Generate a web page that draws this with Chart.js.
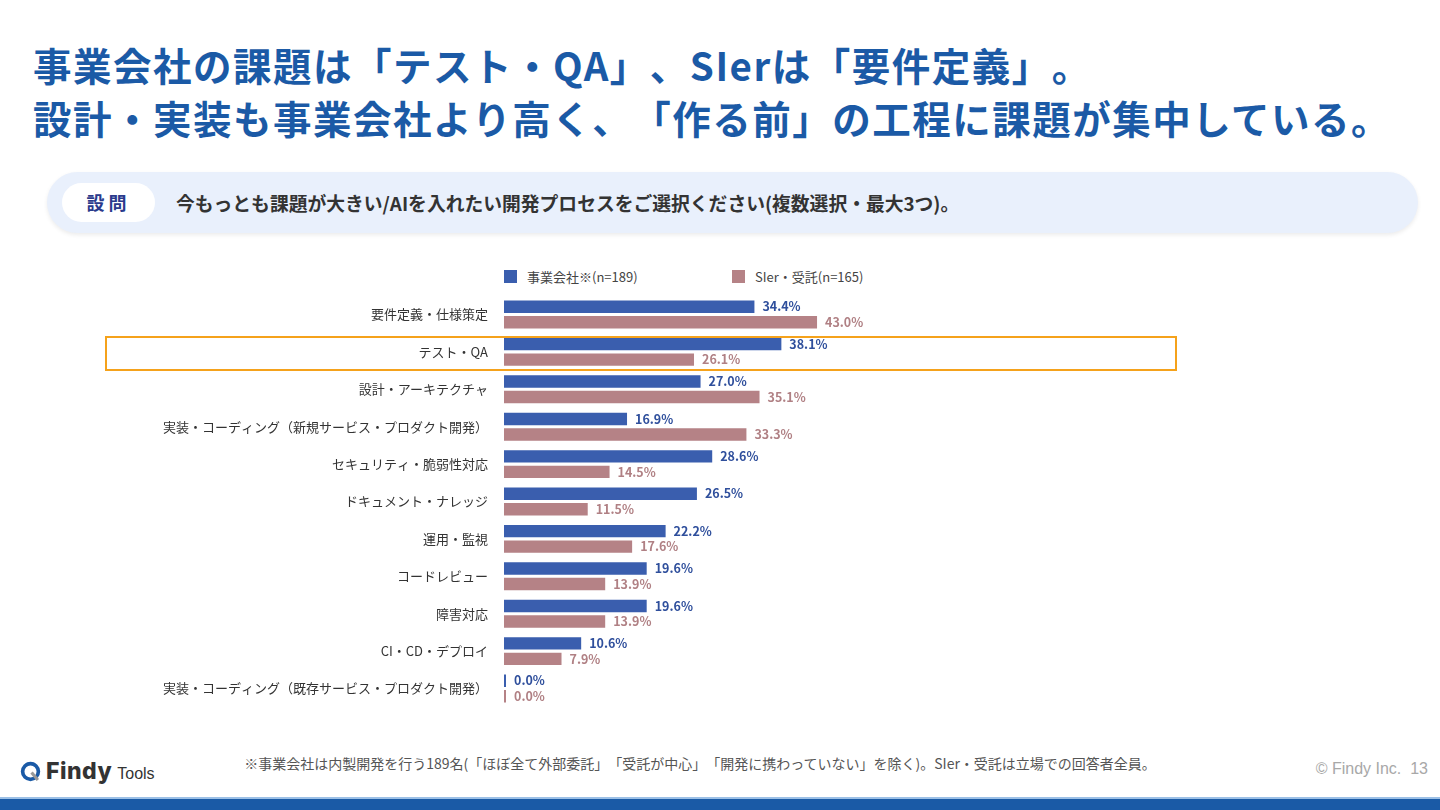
<!DOCTYPE html>
<html lang="ja">
<head>
<meta charset="utf-8">
<script src="https://cdn.jsdelivr.net/npm/chart.js@4"></script>
<style>
  body { margin:0; width:1440px; height:810px; background:#fff; position:relative; overflow:hidden;
         font-family:"Noto Sans CJK JP","Noto Sans",sans-serif; text-spacing-trim:space-all; }
  .title { position:absolute; left:33px; top:38px; color:#1b5aa6; font-weight:700; font-size:38.5px;
           line-height:53px; letter-spacing:1.5px; white-space:nowrap; }
  .question { position:absolute; left:47px; top:172px; width:1371px; height:61px; border-radius:31px;
              background:#e9f0fc; box-shadow:0 2px 4px rgba(0,0,0,0.08); }
  .question .tag { position:absolute; left:15px; top:11px; width:93px; height:39px; border-radius:20px;
                   background:#fff; color:#2a3a8c; font-weight:700; font-size:18px; line-height:39px;
                   text-align:center; letter-spacing:4px; }
  .question .text { position:absolute; left:129px; top:0; line-height:61px; font-size:18.8px; font-weight:700;
                    color:#333; white-space:nowrap; }
  .legend { position:absolute; top:268px; font-size:13px; color:#444; line-height:18px; white-space:nowrap; }
  .legend span.sw { display:inline-block; width:13px; height:13px; vertical-align:-1px; margin-right:10px; }
  .hl { position:absolute; left:105px; top:336px; width:1068px; height:31px; border:2.5px solid #f5a21b; }
  #wrap { position:absolute; left:0; top:272px; width:1440px; height:459px; }
  .note { position:absolute; left:0; width:1400px; top:753px; text-align:center; font-size:14px; color:#555; }
  .logo { position:absolute; left:20px; top:757px; font-family:"Liberation Sans",Arial,sans-serif; color:#333; white-space:nowrap; }
  .logo b { font-size:23px; font-family:Inter,"Liberation Sans",sans-serif; font-weight:800; letter-spacing:0.5px; }
  .logo i { font-style:normal; font-size:16px; margin-left:5px; }
  .copy { position:absolute; right:12px; top:760px; color:#a8a8a8; font-size:16px; font-family:"Liberation Sans",sans-serif; }
  .band { position:absolute; left:0; top:797px; width:1440px; height:13px; background:#1a5aa6; border-top:2px solid #9cc0e6; }
</style>
</head>
<body>
<div class="title">事業会社の課題は「テスト・QA」、SIerは「要件定義」。<br>設計・実装も事業会社より高く、「作る前」の工程に課題が集中している。</div>
<div class="question"><div class="tag">設問</div><div class="text">今もっとも課題が大きい/AIを入れたい開発プロセスをご選択ください(複数選択・最大3つ)。</div></div>
<div class="legend" id="lg1" style="left:504px"></div>
<div class="legend" id="lg2" style="left:732px"></div>
<div id="wrap"><canvas id="chart"></canvas></div>
<div class="hl"></div>
<div class="logo"><svg width="21" height="21" viewBox="0 0 20 20" style="vertical-align:-3px;margin-right:5px"><circle cx="10" cy="10" r="7.5" fill="none" stroke="#1a5aa6" stroke-width="3.5"/><path d="M11 11 L17 18" stroke="#999" stroke-width="3"/></svg><b>Findy</b><i>Tools</i></div>
<div class="note">※事業会社は内製開発を行う189名(「ほぼ全て外部委託」「受託が中心」「開発に携わっていない」を除く)。SIer・受託は立場での回答者全員。</div>
<div class="copy">© Findy Inc.&nbsp;&nbsp;13</div>
<div class="band"></div>

<script>
const categories = [
  '要件定義・仕様策定',
  'テスト・QA',
  '設計・アーキテクチャ',
  '実装・コーディング（新規サービス・プロダクト開発）',
  'セキュリティ・脆弱性対応',
  'ドキュメント・ナレッジ',
  '運用・監視',
  'コードレビュー',
  '障害対応',
  'CI・CD・デプロイ',
  '実装・コーディング（既存サービス・プロダクト開発）'
]
const jigyou = [34.4, 38.1, 27.0, 16.9, 28.6, 26.5, 22.2, 19.6, 19.6, 10.6, 0.0]
const sier = [43.0, 26.1, 35.1, 33.3, 14.5, 11.5, 17.6, 13.9, 13.9, 7.9, 0.0]
const seriesNames = ['事業会社※(n=189)', 'SIer・受託(n=165)']
const barColors = ['#3a5eae', '#b58286']
const labelColors = ['#2f4f9c', '#b08084']

document.getElementById('lg1').innerHTML = `<span class="sw" style="background:${barColors[0]}"></span>${seriesNames[0]}`
document.getElementById('lg2').innerHTML = `<span class="sw" style="background:${barColors[1]}"></span>${seriesNames[1]}`

// value labels at the end of each bar
const valueLabels = {
  id: 'valueLabels',
  afterDatasetsDraw(chart) {
    const ctx = chart.ctx
    ctx.save()
    ctx.font = 'bold 12.5px "Noto Sans CJK JP", "Noto Sans", sans-serif'
    ctx.textBaseline = 'middle'
    ctx.textAlign = 'left'
    chart.data.datasets.forEach((ds, i) => {
      ctx.fillStyle = labelColors[i]
      chart.getDatasetMeta(i).data.forEach((bar, j) => {
        ctx.fillText(ds.data[j].toFixed(1) + '%', bar.x + 8, bar.y)
      })
    })
    ctx.restore()
  }
}

new Chart(document.getElementById('chart'), {
  type: 'bar',
  data: {
    labels: categories,
    datasets: [
      { label: seriesNames[0], data: jigyou, backgroundColor: barColors[0] },
      { label: seriesNames[1], data: sier, backgroundColor: barColors[1] }
    ]
  },
  options: {
    indexAxis: 'y',
    responsive: true,
    maintainAspectRatio: false,
    animation: false,
    categoryPercentage: 0.83,
    barPercentage: 0.8,
    minBarLength: 2,
    layout: { padding: { left: 0, right: 208, top: 0, bottom: 0 } },
    plugins: { legend: { display: false }, tooltip: { enabled: false } },
    scales: {
      x: {
        min: 0, max: 100,
        display: false
      },
      y: {
        afterFit(scale) { scale.width = 504 },
        grid: { display: false, drawTicks: false },
        border: { display: false },
        ticks: {
          padding: 16,
          color: '#333',
          font: { size: 13, family: '"Noto Sans CJK JP", sans-serif' }
        }
      }
    }
  },
  plugins: [valueLabels]
})
</script>
</body>
</html>
